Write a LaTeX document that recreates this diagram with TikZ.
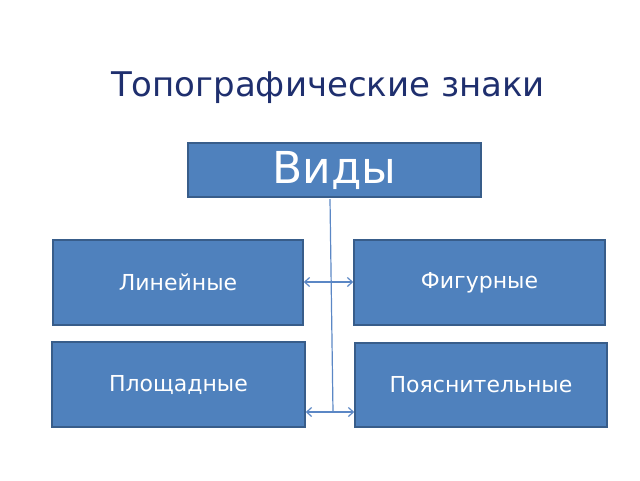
\documentclass[tikz,border=0pt]{standalone}
\usepackage{fontspec}
\setmainfont{DejaVu Sans}
\usetikzlibrary{arrows.meta}
\definecolor{boxfill}{HTML}{4F81BD}
\definecolor{boxline}{HTML}{385D8A}
\definecolor{titlec}{HTML}{1F2F6E}
\definecolor{linec}{HTML}{5B87C5}
\tikzset{
  box/.style={draw=boxline, line width=1.5pt, fill=boxfill, text=white, inner sep=0pt},
  conn/.style={draw=linec, line width=1.2pt},
  biarrow/.style={conn, {Straight Barb[length=5pt,width=9pt]}-{Straight Barb[length=5pt,width=9pt]}}
}
\begin{document}
\begin{tikzpicture}[x=1pt,y=-1pt]
\useasboundingbox (0,0) rectangle (640,480);
\node[text=titlec, font=\fontsize{34}{40}\selectfont] (title) at (328,88) {Топографические знаки};
\node[box, minimum width=293pt, minimum height=54pt, font=\fontsize{44}{50}\selectfont] (vidy) at (334.5,170) {Виды};
\node[box, minimum width=250pt, minimum height=85pt, font=\fontsize{22}{26}\selectfont] (lin) at (178,282.5) {Линейные};
\node[box, minimum width=251pt, minimum height=85pt, font=\fontsize{22}{26}\selectfont] (fig) at (479.5,282.5) {Фигурные};
\node[box, minimum width=253pt, minimum height=85pt, font=\fontsize{22}{26}\selectfont] (pl) at (178.5,384.5) {Площадные};
\node[box, minimum width=252pt, minimum height=84pt, font=\fontsize{22}{26}\selectfont] (po) at (481,385) {Пояснительные};
\coordinate (top) at (330,199);
\coordinate (bot) at (333,412);
\draw[conn] (top) -- (bot);
\draw[biarrow] (lin.east |- bot) ++(0,-130) -- (fig.west |- 0,282);
\draw[biarrow] (pl.east |- bot) -- (po.west |- bot);
\end{tikzpicture}
\end{document}
